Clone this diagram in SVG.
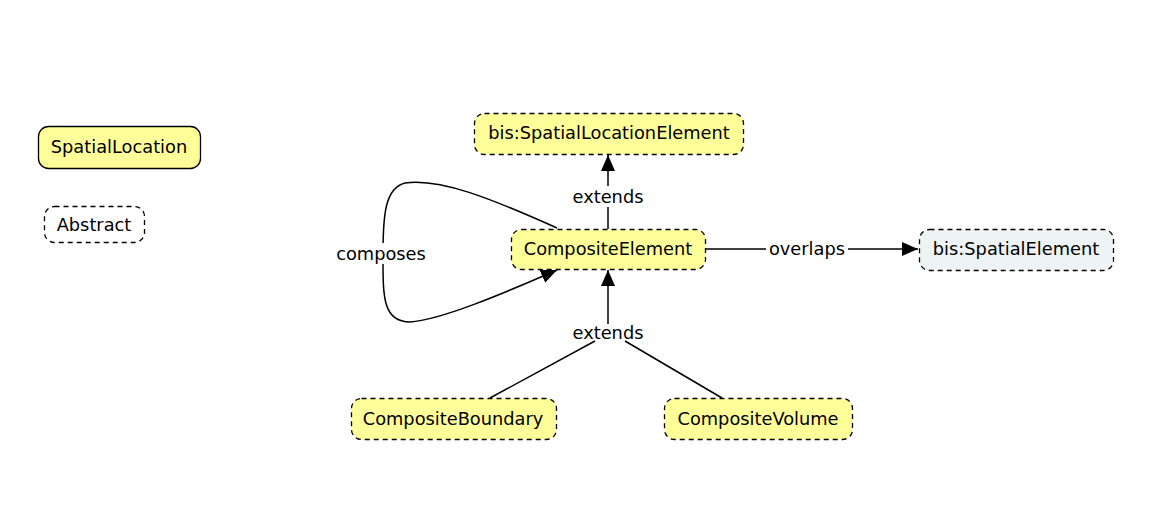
<svg xmlns="http://www.w3.org/2000/svg" width="1175" height="519" viewBox="0 0 1175 519">
<style>
.n{stroke:#000;stroke-width:1.3}
.d{stroke-dasharray:5,4}
.y{fill:#ffff99}
.w{fill:#fff}
.b{fill:#eef3f5}
text{font-family:"DejaVu Sans",Verdana,sans-serif;font-size:17.8px;fill:#000;text-anchor:middle;dominant-baseline:central}
.e{fill:none;stroke:#000;stroke-width:1.5}
.lbl{fill:#fff;stroke:none}
</style>
<defs>
<marker id="ah" viewBox="0 0 16 14" refX="16" refY="7" markerWidth="16" markerHeight="14" markerUnits="userSpaceOnUse" orient="auto">
<path d="M0,0 L16,7 L0,14 Z" fill="#000"/>
</marker>
</defs>
<rect width="1175" height="519" fill="#fff"/>
<g id="connectors">
<path class="e" d="M608,229 L608,155" marker-end="url(#ah)"/>
<rect class="lbl" x="570" y="186" width="76" height="21"/>
<text x="608" y="196">extends</text>
<path class="e" d="M705,249 L918,249" marker-end="url(#ah)"/>
<rect class="lbl" x="766" y="238" width="82" height="21"/>
<text x="807" y="248">overlaps</text>
<path class="e" d="M557,228 C490,198 440,178 405,183 C385,188 383,215 383,254 C383,295 382,322 410,322 C440,320 500,295 557,270" marker-end="url(#ah)"/>
<rect class="lbl" x="336" y="243" width="92" height="21"/>
<text x="381" y="253">composes</text>
<path class="e" d="M490,398 L595,341"/>
<path class="e" d="M722,398 L625,341"/>
<path class="e" d="M608,324 L608,270" marker-end="url(#ah)"/>
<text x="608" y="332">extends</text>
</g>
<g id="SpatialLocation"><rect class="n y" x="38.5" y="126.5" width="162" height="42" rx="10"/><text x="119" y="146">SpatialLocation</text></g>
<g id="Abstract"><rect class="n d w" x="44.5" y="206.5" width="100" height="36" rx="10"/><text x="94" y="224">Abstract</text></g>
<g id="SpatialLocationElement"><rect class="n d y" x="474.5" y="113.5" width="269" height="41" rx="10"/><text x="609" y="132">bis:SpatialLocationElement</text></g>
<g id="CompositeElement"><rect class="n d y" x="511.5" y="229.5" width="194" height="40" rx="10"/><text x="608" y="248">CompositeElement</text></g>
<g id="SpatialElement"><rect class="n d b" x="919.5" y="229.5" width="194" height="41" rx="10"/><text x="1016" y="248">bis:SpatialElement</text></g>
<g id="CompositeBoundary"><rect class="n d y" x="351.5" y="398.5" width="205" height="41" rx="10"/><text x="453" y="418">CompositeBoundary</text></g>
<g id="CompositeVolume"><rect class="n d y" x="664.5" y="398.5" width="188" height="41" rx="10"/><text x="758" y="418">CompositeVolume</text></g>
</svg>
